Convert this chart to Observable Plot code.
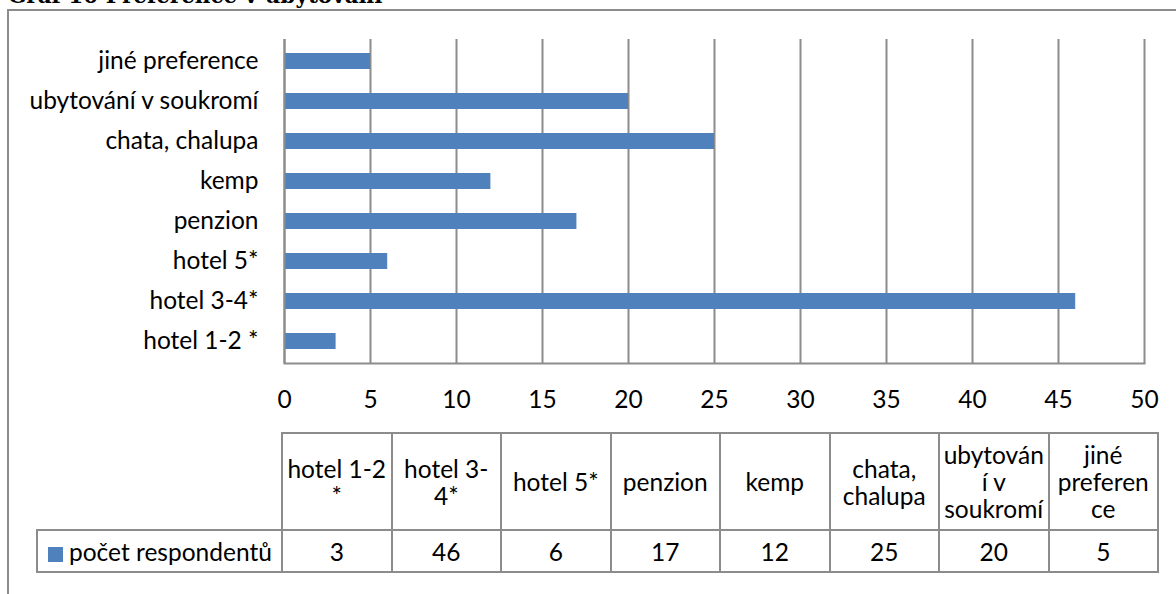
<!DOCTYPE html>
<html>
<head>
<meta charset="utf-8">
<script src="https://cdn.jsdelivr.net/npm/d3@7"></script>
<script src="https://cdn.jsdelivr.net/npm/@observablehq/plot@0.6"></script>
<style>
  html, body { margin: 0; padding: 0; background: #fff; width: 1176px; height: 594px; overflow: hidden; position: relative; }
  #title { position: absolute; left: 8px; top: -17px; font-family: "DejaVu Serif", serif; font-weight: bold; font-size: 21.5px; color: #000; white-space: nowrap; }
  #frame { position: absolute; left: 7px; top: 9px; width: 1400px; height: 800px; border: 2px solid #8c8c8c; box-sizing: border-box; }
  #chart { position: absolute; left: 0; top: 0; }
  #tbl { position: absolute; left: 36px; top: 432px; border-collapse: collapse; font-family: Lato, sans-serif; font-size: 24.5px; color: #000; table-layout: fixed; }
  #tbl td { border: 2px solid #8c8c8c; text-align: center; vertical-align: middle; padding: 0; line-height: 27px; white-space: pre; overflow: hidden; }
  #tbl td.corner { border-top: none; border-left: none; border-bottom: 2px solid #8c8c8c; }
  #tbl td.legend { text-align: left; padding-left: 10px; white-space: nowrap; }
  .swatch { display: inline-block; width: 15px; height: 15px; background: #4F81BD; margin-right: 6px; vertical-align: -1px; }
</style>
</head>
<body>
<div id="title">Graf 10 Preference v ubytování</div>
<div id="frame"></div>
<div id="chart"></div>
<table id="tbl"></table>
<script>
const categories = ["hotel 1-2 *", "hotel 3-4*", "hotel 5*", "penzion", "kemp", "chata, chalupa", "ubytování v soukromí", "jiné preference"];
const values = [3, 46, 6, 17, 12, 25, 20, 5];
const tableHeaders = ["hotel 1-2\n*", "hotel 3-\n4*", "hotel 5*", "penzion", "kemp", "chata,\nchalupa", "ubytován\ní v\nsoukromí", "jiné\npreferen\nce"];
const xTicks = [0, 5, 10, 15, 20, 25, 30, 35, 40, 45, 50];
const seriesName = "počet respondentů";

const data = categories.map((c, i) => ({cat: c, value: values[i]}));

const plot = Plot.plot({
  width: 1176,
  height: 420,
  marginLeft: 284,
  marginRight: 32,
  marginTop: 39,
  marginBottom: 57,
  style: {fontFamily: "Lato, sans-serif", fontSize: "24.5px", color: "#000", background: "transparent", overflow: "visible"},
  x: {domain: [0, 50], label: null},
  y: {domain: categories.slice().reverse(), paddingInner: 0.6, paddingOuter: 0.3, label: null},
  marks: [
    Plot.ruleX(xTicks, {stroke: "#8c8c8c", strokeWidth: 2}),
    Plot.barX(data, {x: "value", y: "cat", fill: "#4F81BD"}),
    Plot.ruleX([0], {stroke: "#8c8c8c", strokeWidth: 2}),
    Plot.frame({anchor: "bottom", stroke: "#8c8c8c", strokeWidth: 2}),
    Plot.axisX({ticks: xTicks, tickSize: 0, tickPadding: 27, label: null, fill: "#000"}),
    Plot.axisY({tickSize: 0, tickPadding: 26, label: null, fill: "#000"})
  ]
});
document.getElementById("chart").appendChild(plot);

// data table below the chart
const tbl = d3.select("#tbl");
const cg = tbl.append("colgroup");
cg.append("col").style("width", "245px");
categories.forEach(() => cg.append("col").style("width", "109.5px"));
const r1 = tbl.append("tr").style("height", "97px");
r1.append("td").attr("class", "corner");
tableHeaders.forEach(h => r1.append("td").text(h));
const r2 = tbl.append("tr").style("height", "42px");
const lg = r2.append("td").attr("class", "legend");
lg.append("span").attr("class", "swatch");
lg.append("span").text(seriesName);
values.forEach(v => r2.append("td").text(v));
</script>
</body>
</html>
